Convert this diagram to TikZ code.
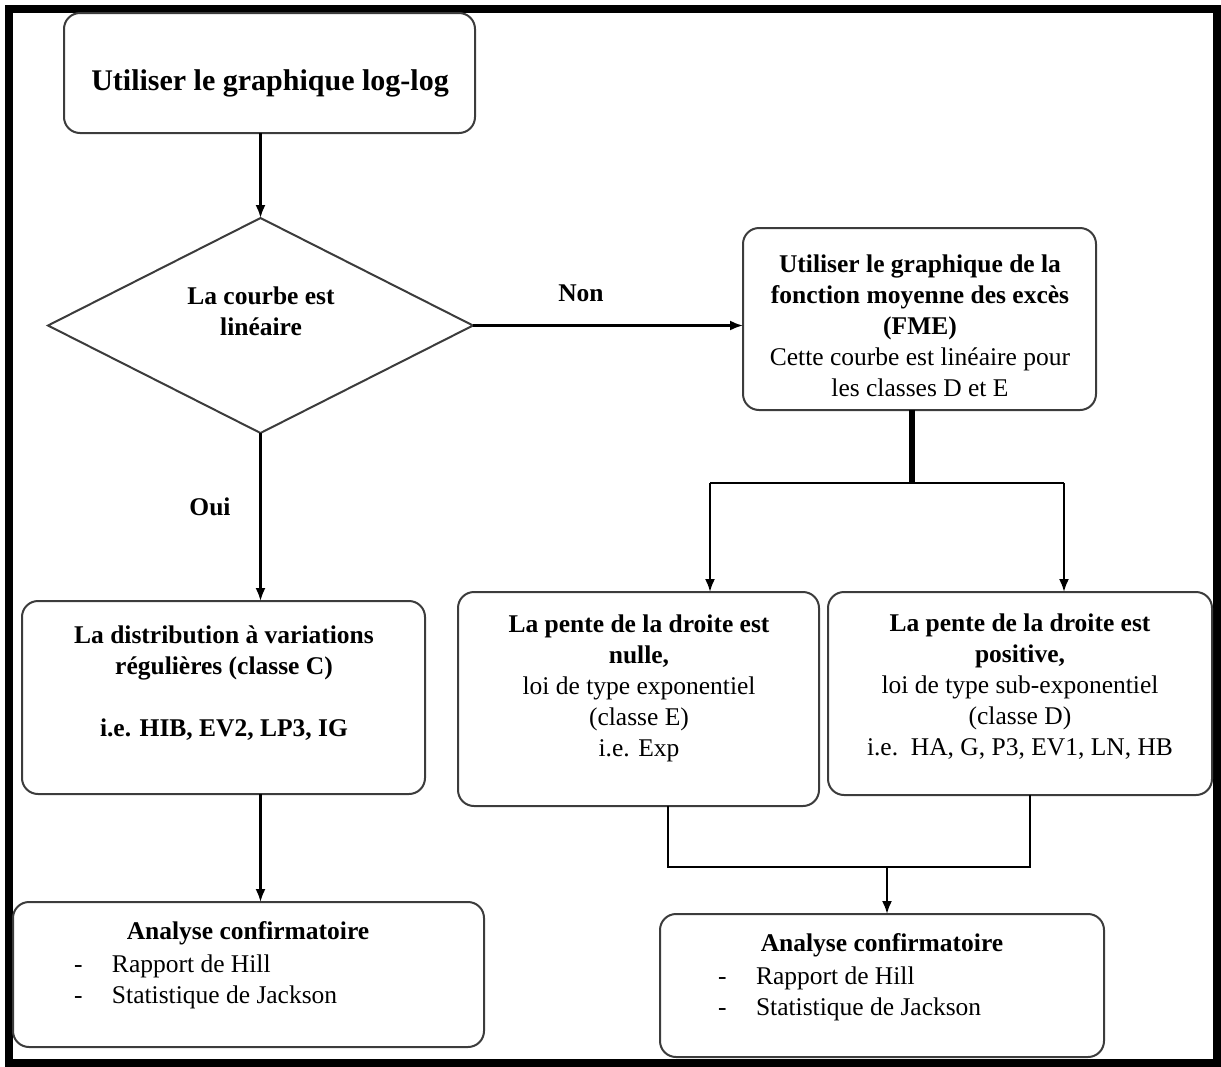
\documentclass[tikz,border=0pt]{standalone}
\usepackage{fontspec}
\setmainfont{Liberation Serif}
\usetikzlibrary{shapes.geometric,arrows.meta}
\tikzset{
  box/.style={draw={rgb,255:red,60;green,60;blue,60}, line width=2pt, rounded corners=16pt, inner sep=0pt, outer sep=0pt},
  txt/.style={inner sep=0pt, outer sep=0pt, align=center, font=\fontsize{25.5pt}{31pt}\selectfont},
  txtb/.style={txt, font=\fontsize{25.5pt}{31pt}\selectfont\bfseries},
  lst/.style={inner sep=0pt, outer sep=0pt, align=left, anchor=west, font=\fontsize{25.5pt}{31pt}\selectfont},
  conn/.style={line width=2.2pt, draw=black},
  arr/.style={conn, -{Latex[length=13pt,width=10pt]}},
}
\newcommand{\dashitem}[1]{\makebox[38pt][l]{-}#1}
\begin{document}
\begin{tikzpicture}[x=1pt,y=-1pt]
\useasboundingbox (0,0) rectangle (1221,1066);
\draw[line width=8pt] (9,9) rectangle (1217,1063);

% boxes
\node[box, minimum width=411pt, minimum height=120pt] (top) at (269.5,73) {};
\node[txtb, font=\fontsize{30pt}{36pt}\selectfont\bfseries] (topt) at (270,83) {Utiliser le graphique log-log};

\node[draw={rgb,255:red,60;green,60;blue,60}, line width=2pt, diamond, minimum width=425pt, minimum height=215pt, inner sep=0pt, outer sep=0pt] (dia) at (260.5,325.5) {};
\node[txtb] (diat) at (261,311) {La courbe est\\linéaire};

\node[box, minimum width=353pt, minimum height=182pt] (fme) at (919.5,319) {};
\node[txt] (fmet) at (920,326) {\textbf{Utiliser le graphique de la}\\\textbf{fonction moyenne des excès}\\\textbf{(FME)}\\Cette courbe est linéaire pour\\les classes D et E};

\node[box, minimum width=403pt, minimum height=193pt] (C) at (223.5,697.5) {};
\node[txtb] (Ct) at (224,683.5) {La distribution à variations\\régulières (classe C)\\[31pt]i.e. HIB, EV2, LP3, IG};

\node[box, minimum width=361pt, minimum height=214pt] (E) at (638.5,699) {};
\node[txt] (Et) at (639,688.5) {\textbf{La pente de la droite est}\\\textbf{nulle,}\\loi de type exponentiel\\(classe E)\\i.e. Exp};

\node[box, minimum width=384pt, minimum height=203pt] (D) at (1020,693.5) {};
\node[txt] (Dt) at (1020,687) {\textbf{La pente de la droite est}\\\textbf{positive,}\\loi de type sub-exponentiel\\(classe D)\\i.e.\ \ HA, G, P3, EV1, LN, HB};

\node[box, minimum width=471pt, minimum height=145pt] (LB) at (248.5,974.5) {};
\node[txtb] (LBt) at (248,933) {Analyse confirmatoire};
\node[lst] (LBl) at (74,981.5) {\dashitem{Rapport de Hill}\\\dashitem{Statistique de Jackson}};

\node[box, minimum width=444pt, minimum height=143pt] (RB) at (882,985.5) {};
\node[txtb] (RBt) at (882,945) {Analyse confirmatoire};
\node[lst] (RBl) at (718,994) {\dashitem{Rapport de Hill}\\\dashitem{Statistique de Jackson}};

% labels
\node[txtb] (non) at (581,293) {Non};
\node[txtb] (oui) at (210,507) {Oui};

% connectors
\draw[arr] (top.south -| dia.north) -- (dia.north);
\draw[arr] (dia.east) -- (dia.east -| fme.west);
\draw[arr] (dia.south) -- (dia.south |- C.north);
\draw[arr] (C.south -| dia.south) -- (LB.north -| dia.south);

\coordinate (split) at (912,483);
\coordinate (sl) at (710,483);
\coordinate (sr) at (1064,483);
\draw[line width=6pt] (fme.south -| split) -- (split);
\draw[conn] (sl) -- (sr);
\draw[arr] (sl) -- (sl |- E.north);
\draw[arr] (sr) -- (sr |- D.north);

\coordinate (ml) at (668,867);
\coordinate (mr) at (1030,867);
\coordinate (mm) at (887,867);
\draw[conn, line width=2pt] (E.south -| ml) -- (ml) -- (mr) -- (D.south -| mr);
\draw[arr] (mm) -- (mm |- RB.north);
\end{tikzpicture}
\end{document}
